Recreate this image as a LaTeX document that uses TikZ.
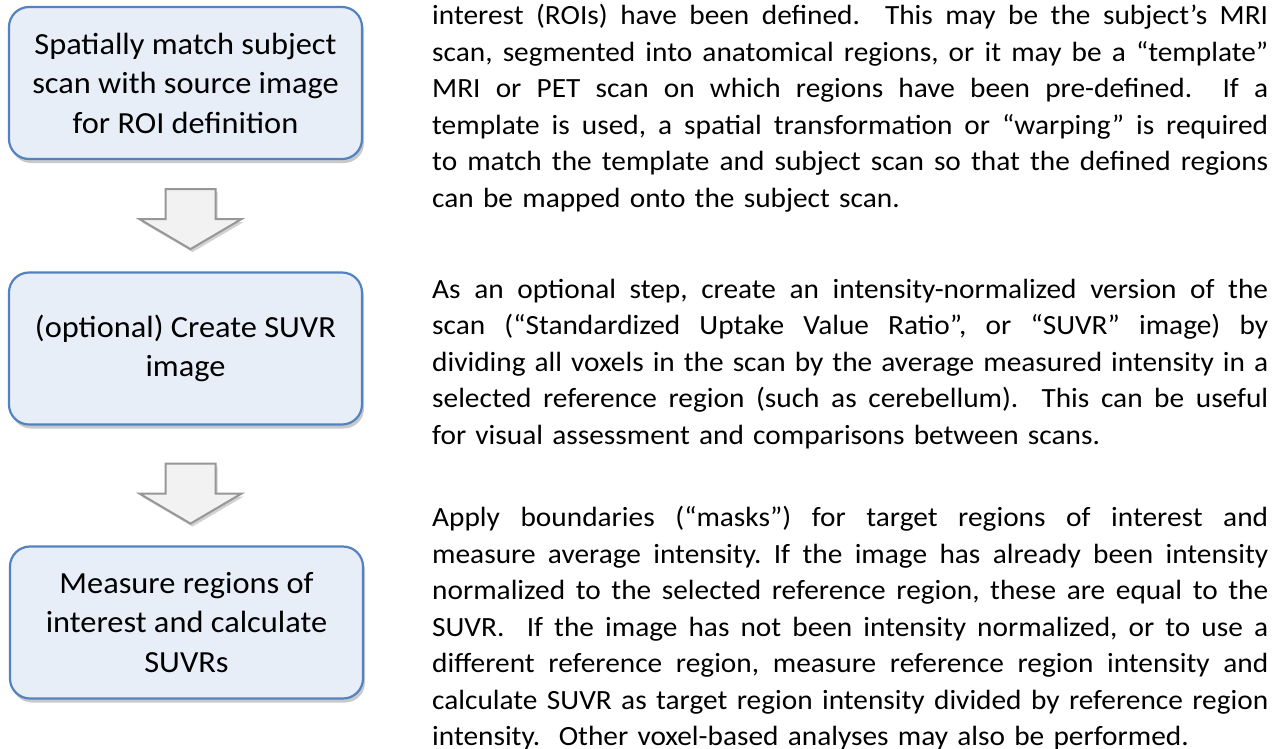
\documentclass[tikz,border=0pt]{standalone}
\usepackage{fontspec}
\setmainfont{Carlito}[FakeStretch=1.055]
\usetikzlibrary{shadows,calc}
\definecolor{boxfill}{HTML}{E7EEF8}
\definecolor{boxline}{HTML}{5283C0}
\definecolor{arrowfill}{HTML}{F2F2F2}
\definecolor{arrowline}{HTML}{979797}
\newlength\parawidth
\setlength\parawidth{836pt}
% one justified line of a paragraph (spaces share the slack evenly),
% and the ragged last line
\newcommand\jline[1]{\noindent\hbox to\parawidth{%
  \spaceskip=\fontdimen2\font plus 1fil minus 0.05em\relax #1}\par}
\newcommand\lastline[1]{\noindent\hbox{#1}\par}
\newcommand\dsp{\space\space}
\frenchspacing
\begin{document}
\begin{tikzpicture}[x=1pt,y=-1pt,
  stepbox/.style={draw=boxline, line width=2.2pt, fill=boxfill,
    rounded corners=20pt, minimum width=353pt, minimum height=152pt,
    align=center, inner sep=0pt,
    font=\fontsize{30.7}{39.5}\selectfont,
    drop shadow={shadow xshift=2pt, shadow yshift=-4pt, opacity=0.3, fill=black!70}},
  para/.style={anchor=base west, inner sep=0pt, text width=836pt,
    font=\fontsize{27.8}{36.5}\selectfont},
  blockarrow/.style={draw=arrowline, line width=2pt, fill=arrowfill,
    line join=miter,
    drop shadow={shadow xshift=2pt, shadow yshift=-3pt, opacity=0.25, fill=black!70}}
]
\useasboundingbox (0,0) rectangle (1277,748);

% flow of steps
\node[stepbox] (b1) at (185.5,83)    {Spatially match subject\\scan with source image\\for ROI definition};
\node[stepbox] (b2) at (185.5,348.5) {(optional) Create SUVR\\image};
\node[stepbox] (b3) at (186.5,622.5) {Measure regions of\\interest and calculate\\SUVRs};

% hollow block arrows between the steps
\coordinate (a1) at ($(b1.south)+(5,29)$);
\coordinate (a2) at ($(b2.south)+(5,38)$);
\foreach \a in {a1,a2}
  \path[blockarrow] (\a) ++(-25,0) -- ++(50,0) -- ++(0,30) -- ++(26,0)
        -- ++(-51,30) -- ++(-51,-30) -- ++(26,0) -- cycle;

% descriptions
\node[para] (p1) at (432,24.5) {%
\jline{interest (ROIs) have been defined.\dsp This may be the subject’s MRI}%
\jline{scan, segmented into anatomical regions, or it may be a “template”}%
\jline{MRI or PET scan on which regions have been pre-defined.\dsp If a}%
\jline{template is used, a spatial transformation or “warping” is required}%
\jline{to match the template and subject scan so that the defined regions}%
\lastline{can be mapped onto the subject scan.}};

\node[para] (p2) at (432,298) {%
\jline{As an optional step, create an intensity-normalized version of the}%
\jline{scan (“Standardized Uptake Value Ratio”, or “SUVR” image) by}%
\jline{dividing all voxels in the scan by the average measured intensity in a}%
\jline{selected reference region (such as cerebellum).\dsp This can be useful}%
\lastline{for visual assessment and comparisons between scans.}};

\node[para] (p3) at (432,526.5) {%
\jline{Apply boundaries (“masks”) for target regions of interest and}%
\jline{measure average intensity. If the image has already been intensity}%
\jline{normalized to the selected reference region, these are equal to the}%
\jline{SUVR.\dsp If the image has not been intensity normalized, or to use a}%
\jline{different reference region, measure reference region intensity and}%
\jline{calculate SUVR as target region intensity divided by reference region}%
\lastline{intensity.\dsp Other voxel-based analyses may also be performed.}};
\end{tikzpicture}
\end{document}
